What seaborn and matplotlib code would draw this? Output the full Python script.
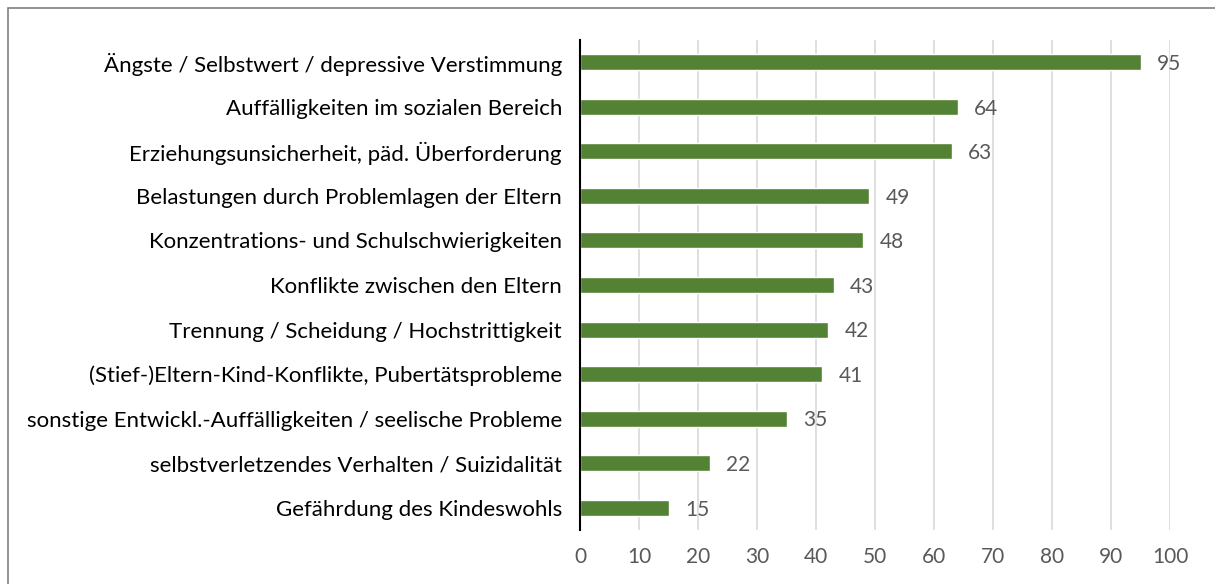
import matplotlib
matplotlib.use("Agg")
import matplotlib.pyplot as plt
import seaborn as sns
import pandas as pd
from matplotlib.patches import Rectangle

categories = [
    "Ängste / Selbstwert / depressive Verstimmung",
    "Auffälligkeiten im sozialen Bereich",
    "Erziehungsunsicherheit, päd. Überforderung",
    "Belastungen durch Problemlagen der Eltern",
    "Konzentrations- und Schulschwierigkeiten",
    "Konflikte zwischen den Eltern",
    "Trennung / Scheidung / Hochstrittigkeit",
    "(Stief-)Eltern-Kind-Konflikte, Pubertätsprobleme",
    "sonstige Entwickl.-Auffälligkeiten / seelische Probleme",
    "selbstverletzendes Verhalten / Suizidalität",
    "Gefährdung des Kindeswohls",
]
values = [95, 64, 63, 49, 48, 43, 42, 41, 35, 22, 15]
x_ticks = [0, 10, 20, 30, 40, 50, 60, 70, 80, 90, 100]

df = pd.DataFrame({"category": categories, "value": values})

sns.set_theme(style="white")
plt.rcParams["font.family"] = ["Lato", "DejaVu Sans"]

fig = plt.figure(figsize=(12.15, 5.84), dpi=100)
ax = fig.add_axes([580 / 1215, 54 / 584, 590 / 1215, 490 / 584])

sns.barplot(data=df, x="value", y="category", color="#548235",
            width=0.36, saturation=1, ax=ax)

ax.set_xlim(0, 100)
ax.set_ylim(len(categories) - 0.5, -0.5)
ax.set_xticks(x_ticks)
ax.set_xlabel("")
ax.set_ylabel("")
ax.grid(axis="x", color="#D9D9D9", linewidth=1.2)
ax.set_axisbelow(True)
for side in ["top", "right", "bottom"]:
    ax.spines[side].set_visible(False)
ax.spines["left"].set_color("black")
ax.spines["left"].set_linewidth(1.5)
ax.tick_params(axis="x", length=0, labelsize=15, labelcolor="#595959", pad=12)
ax.tick_params(axis="y", length=0, labelsize=16, labelcolor="black", pad=13)

for i, v in enumerate(values):
    ax.text(v + 2.8, i + 0.04, str(v), va="center", ha="left",
            fontsize=15, color="#595959")

fig.patches.append(Rectangle((8 / 1215, -0.01), 1.02, 1 - 8 / 584 + 0.01,
                             transform=fig.transFigure, fill=False,
                             edgecolor="#808080", linewidth=1.2))

fig.savefig("out.png", dpi=100)
